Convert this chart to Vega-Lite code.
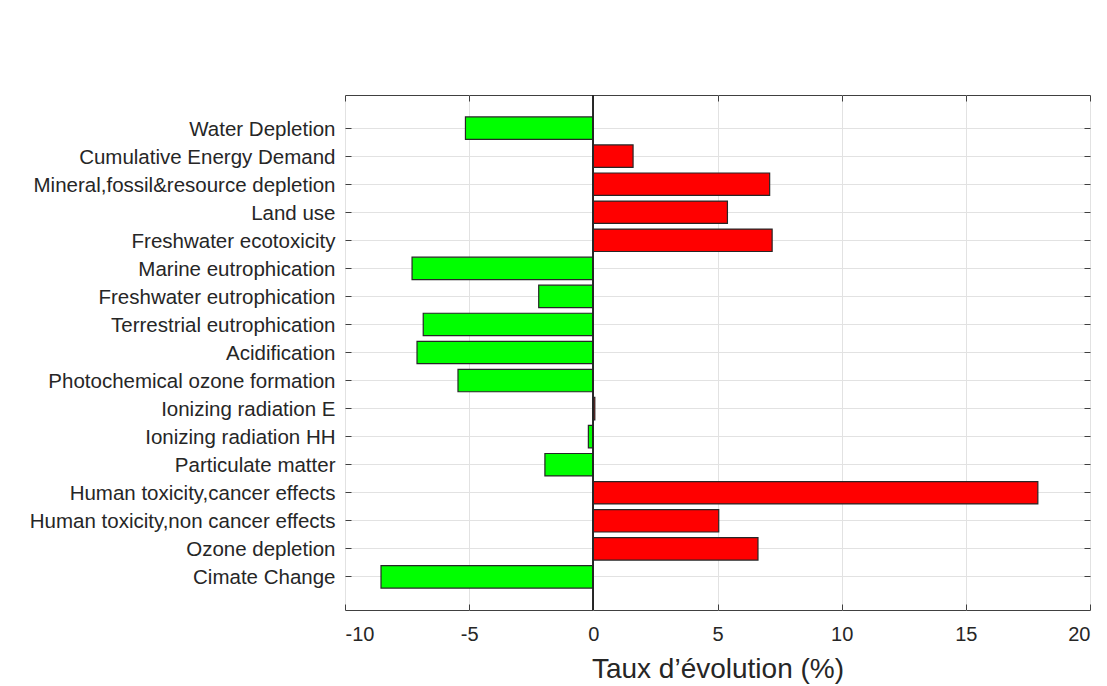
{
  "$schema": "https://vega.github.io/schema/vega-lite/v6.json",
  "width": 745,
  "height": 515,
  "autosize": "none",
  "padding": {"left": 345, "top": 95, "right": 17, "bottom": 76},
  "background": "white",
  "config": {
    "view": {"stroke": "#404040", "strokeWidth": 1},
    "font": "Liberation Sans",
    "axis": {"labelFont": "Liberation Sans", "titleFont": "Liberation Sans"}
  },
  "data": {
    "values": [
      {"category": "Water Depletion", "value": -5.15},
      {"category": "Cumulative Energy Demand", "value": 1.6},
      {"category": "Mineral,fossil&resource depletion", "value": 7.1},
      {"category": "Land use", "value": 5.4},
      {"category": "Freshwater ecotoxicity", "value": 7.2},
      {"category": "Marine eutrophication", "value": -7.3},
      {"category": "Freshwater eutrophication", "value": -2.2},
      {"category": "Terrestrial eutrophication", "value": -6.85},
      {"category": "Acidification", "value": -7.1},
      {"category": "Photochemical ozone formation", "value": -5.45},
      {"category": "Ionizing radiation E", "value": 0.06},
      {"category": "Ionizing radiation HH", "value": -0.2},
      {"category": "Particulate matter", "value": -1.95},
      {"category": "Human toxicity,cancer effects", "value": 17.9},
      {"category": "Human toxicity,non cancer effects", "value": 5.05},
      {"category": "Ozone depletion", "value": 6.63},
      {"category": "Cimate Change", "value": -8.55}
    ]
  },
  "resolve": {"axis": {"x": "independent", "y": "independent"}},
  "layer": [
    {
      "mark": {"type": "bar", "stroke": "#262626", "strokeWidth": 1.2},
      "encoding": {
        "y": {
          "field": "category", "type": "nominal", "sort": null,
          "scale": {"paddingInner": 0.2, "paddingOuter": 0.78},
          "axis": {
            "title": null, "orient": "left", "bandPosition": 0.5,
            "labelFontSize": 20.5, "labelColor": "#262626", "labelPadding": 16, "labelLimit": 0,
            "labelOffset": 1.5,
            "tickSize": -6, "tickColor": "#404040", "domain": false,
            "grid": true, "gridColor": "#e2e2e2", "gridWidth": 1
          }
        },
        "x": {
          "field": "value", "type": "quantitative",
          "scale": {"domain": [-10, 20], "nice": false, "zero": false},
          "axis": {
            "orient": "bottom", "values": [-10, -5, 0, 5, 10, 15, 20],
            "labelExpr": "toString(datum.value)",
            "title": "Taux d’évolution (%)", "titleFontSize": 28, "titleFontWeight": "normal",
            "titleColor": "#262626", "titlePadding": 11,
            "labelFontSize": 20, "labelColor": "#262626", "labelPadding": 20,
            "tickSize": -6, "tickColor": "#404040", "domain": false,
            "grid": true, "gridColor": "#e2e2e2", "gridWidth": 1
          }
        },
        "color": {"condition": {"test": "datum.value < 0", "value": "#00ff00"}, "value": "#ff0000"}
      }
    },
    {
      "mark": {"type": "bar", "opacity": 0},
      "encoding": {
        "y": {
          "field": "category", "type": "nominal", "sort": null,
          "axis": {"orient": "right", "title": null, "labels": false, "bandPosition": 0.5,
                   "tickSize": -6, "tickColor": "#404040", "domain": false, "grid": false}
        },
        "x": {
          "field": "value", "type": "quantitative",
          "axis": {"orient": "top", "title": null, "labels": false, "values": [-10, -5, 0, 5, 10, 15, 20],
                   "tickSize": -6, "tickColor": "#404040", "domain": false, "grid": false}
        }
      }
    },
    {
      "mark": {"type": "rule", "color": "#262626", "strokeWidth": 1},
      "encoding": {"x": {"datum": 0, "axis": null}}
    }
  ]
}
